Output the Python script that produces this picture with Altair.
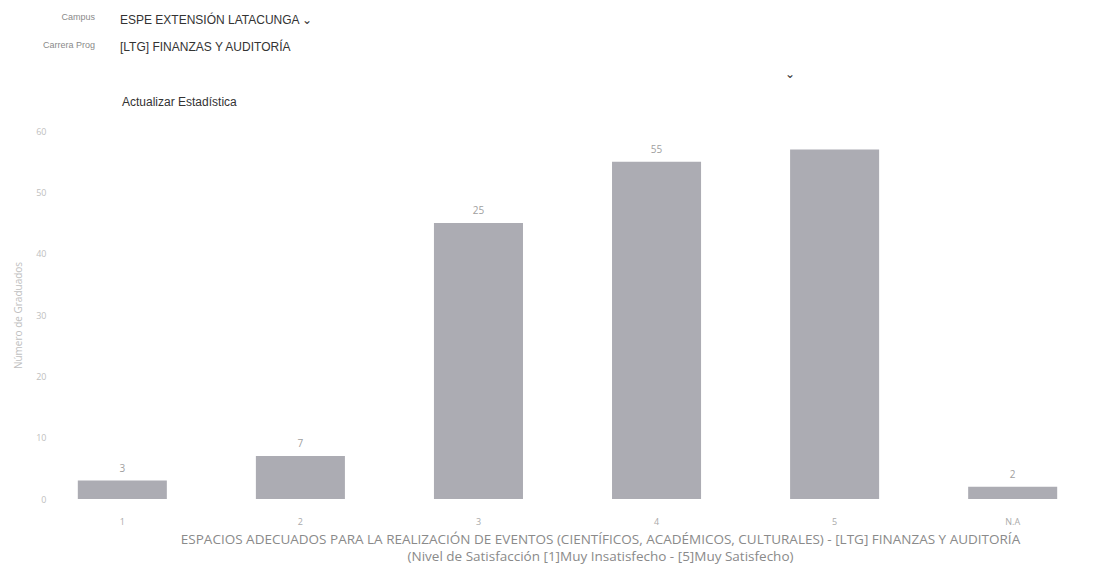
import altair as alt
import pandas as pd

categories = ["1", "2", "3", "4", "5", "N.A"]
values = [3, 7, 45, 55, 57, 2]
value_labels = ["3", "7", "25", "55", "", "2"]

y_ticks = [0, 10, 20, 30, 40, 50, 60]

x_title = [
    "ESPACIOS ADECUADOS PARA LA REALIZACIÓN DE EVENTOS (CIENTÍFICOS, ACADÉMICOS, CULTURALES) - [LTG] FINANZAS Y AUDITORÍA",
    "(Nivel de Satisfacción  [1]Muy Insatisfecho  -  [5]Muy Satisfecho)",
]
y_title = "Número de Graduados"

form_labels = ["Campus", "Carrera Prog"]
form_values = ["ESPE EXTENSIÓN LATACUNGA ⌄", "[LTG] FINANZAS Y AUDITORÍA"]
button_text = "Actualizar Estadística"

df = pd.DataFrame({"cat": categories, "val": values, "lab": value_labels})

FONT = "Open Sans"

x_enc = alt.X(
    "cat:N",
    sort=categories,
    scale=alt.Scale(paddingInner=0.5, paddingOuter=0.1),
    axis=alt.Axis(
        title=x_title,
        labelAngle=0,
        labelColor="#aaaaaa",
        labelFontSize=9,
        labelFont=FONT,
        labelPadding=18,
        domain=False,
        ticks=False,
        titleColor="#8a8a8a",
        titleFont=FONT,
        titleFontSize=13.5,
        titleFontWeight="normal",
        titlePadding=6,
        titleLineHeight=17,
        titleAnchor="middle",
        titleAlign="center",
        titleX=540,
    ),
)

y_enc = alt.Y(
    "val:Q",
    scale=alt.Scale(domain=[0, 60]),
    axis=alt.Axis(
        values=y_ticks,
        title=y_title,
        grid=False,
        domain=False,
        ticks=False,
        labelColor="#c0c0c0",
        labelFontSize=9,
        labelFont=FONT,
        labelPadding=14,
        titleColor="#c0c0c0",
        titleFont=FONT,
        titleFontSize=10,
        titleFontWeight="normal",
        titlePadding=12,
    ),
)

bars = alt.Chart(df).mark_bar(color="#acacb3").encode(x=x_enc, y=y_enc)

labels = alt.Chart(df).mark_text(
    dy=-12, fontSize=10, color="#a0a0a0", font=FONT
).encode(x=alt.X("cat:N", sort=categories), y="val:Q", text="lab:N")

hdr = pd.DataFrame({
    "txt": form_labels + form_values + [button_text, "⌄"],
    "kind": ["lab", "lab", "val", "val", "btn", "chev"],
    "px": [35, 35, 60, 60, 62, 725],
    "py": [-114, -86, -111, -84, -29, -57],
})

hdr_lab = alt.Chart(hdr).transform_filter(alt.datum.kind == "lab").mark_text(
    align="right", baseline="middle", fontSize=9, color="#8a8a8a", font="Liberation Sans"
).encode(x=alt.X("px:Q", scale=None), y=alt.Y("py:Q", scale=None), text="txt:N")

hdr_val = alt.Chart(hdr).transform_filter(
    (alt.datum.kind == "val") | (alt.datum.kind == "btn") | (alt.datum.kind == "chev")
).mark_text(
    align="left", baseline="middle", fontSize=12, color="#333333", font="Liberation Sans"
).encode(x=alt.X("px:Q", scale=None), y=alt.Y("py:Q", scale=None), text="txt:N")

chart = alt.layer(bars, labels, hdr_lab, hdr_val).properties(
    width=1015, height=368, background="white"
).configure_view(strokeWidth=0)

chart.save("out.html", embed_options={"renderer": "svg", "actions": False})
